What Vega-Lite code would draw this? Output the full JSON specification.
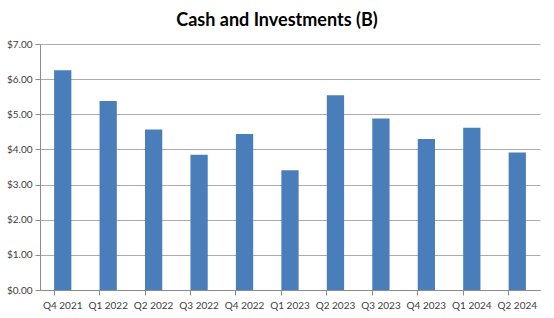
{
  "$schema": "https://vega.github.io/schema/vega-lite/v6.json",
  "width": 500,
  "height": 246,
  "autosize": {"type": "none"},
  "padding": {"left": 40, "top": 44, "right": 14, "bottom": 28},
  "background": "white",
  "title": {
    "text": "Cash and Investments (B)",
    "font": "Lato",
    "fontSize": 18,
    "fontWeight": "bold",
    "color": "#000000",
    "anchor": "middle",
    "frame": "group",
    "dx": -13,
    "offset": 9
  },
  "data": {
    "values": [
      {"quarter": "Q4 2021", "value": 6.25},
      {"quarter": "Q1 2022", "value": 5.38},
      {"quarter": "Q2 2022", "value": 4.57},
      {"quarter": "Q3 2022", "value": 3.85},
      {"quarter": "Q4 2022", "value": 4.44},
      {"quarter": "Q1 2023", "value": 3.41},
      {"quarter": "Q2 2023", "value": 5.54},
      {"quarter": "Q3 2023", "value": 4.88},
      {"quarter": "Q4 2023", "value": 4.30},
      {"quarter": "Q1 2024", "value": 4.62},
      {"quarter": "Q2 2024", "value": 3.91}
    ]
  },
  "mark": {"type": "bar", "color": "#4a7ebb"},
  "encoding": {
    "x": {
      "field": "quarter",
      "type": "nominal",
      "sort": null,
      "scale": {"paddingInner": 0.62, "paddingOuter": 0.31},
      "axis": {
        "title": null,
        "labelAngle": 0,
        "labelFont": "Lato",
        "labelFontSize": 10,
        "labelColor": "#404040",
        "labelPadding": 5,
        "domainColor": "#8c8c8c",
        "tickColor": "#8c8c8c",
        "tickSize": 5,
        "bandPosition": 0,
        "grid": false
      }
    },
    "y": {
      "field": "value",
      "type": "quantitative",
      "scale": {"domain": [0, 7], "nice": false},
      "axis": {
        "title": null,
        "values": [0, 1, 2, 3, 4, 5, 6, 7],
        "format": "$.2f",
        "labelFont": "Lato",
        "labelFontSize": 10,
        "labelColor": "#404040",
        "labelPadding": 3,
        "domainColor": "#8c8c8c",
        "tickColor": "#8c8c8c",
        "tickSize": 5,
        "gridColor": "#ababab",
        "gridWidth": 1
      }
    }
  },
  "config": {"view": {"stroke": null}}
}
